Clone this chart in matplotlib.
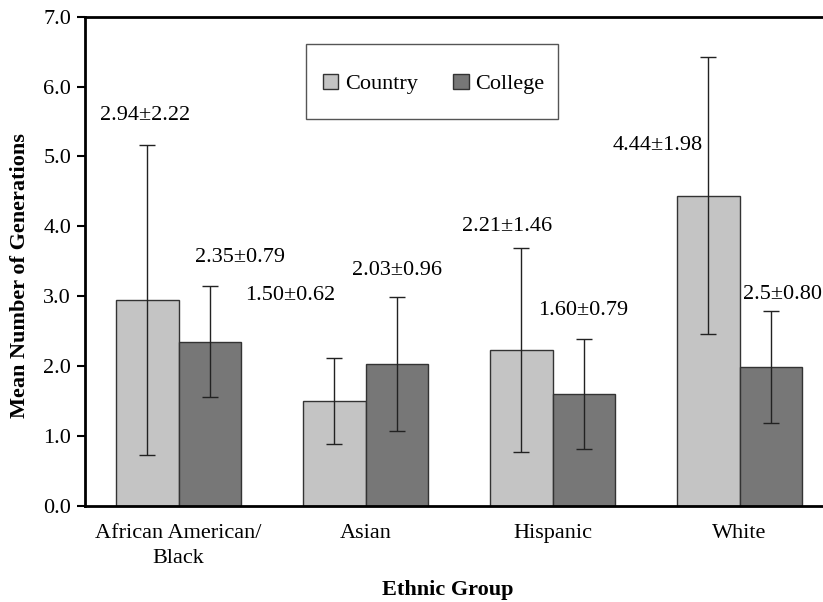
import numpy as np
import matplotlib
matplotlib.use('Agg')
import matplotlib.pyplot as plt
from matplotlib.patches import Rectangle

plt.rcParams['font.family'] = ['Liberation Serif', 'DejaVu Serif']

# Mean number of generations per ethnic group
groups = ['African American/\nBlack', 'Asian', 'Hispanic', 'White']
country_mean = [2.94, 1.50, 2.23, 4.44]
country_sd = [2.22, 0.62, 1.46, 1.98]
college_mean = [2.35, 2.03, 1.60, 1.98]
college_sd = [0.79, 0.96, 0.79, 0.80]
country_text = ['2.94±2.22', '1.50±0.62', '2.21±1.46', '4.44±1.98']
college_text = ['2.35±0.79', '2.03±0.96', '1.60±0.79', '2.5±0.80']

# where the value labels sit (data coords), they are placed by hand in the original
country_lab_pos = [(0.321, 5.59, 'center'), (1.096, 3.01, 'center'),
                   (2.257, 4.00, 'center'), (3.064, 5.15, 'center')]
college_lab_pos = [(0.829, 3.55, 'center'), (1.668, 3.37, 'center'),
                   (2.663, 2.79, 'center'), (3.52, 3.03, 'left')]

fs = 16
W, H = 823, 602

fig = plt.figure(figsize=(W/100, H/100), dpi=100)
ax = fig.add_axes([85/W, 1-505.7/H, 748/W, (505.7-16.7)/H])

x = np.arange(len(groups)) + 0.5
w = 1/3
err_kw = dict(ecolor='#222222', elinewidth=1, capsize=6, capthick=1)
ax.bar(x - w/2, country_mean, w, yerr=country_sd, color='#c4c4c4',
       edgecolor='#333333', linewidth=1, label='Country', error_kw=err_kw)
ax.bar(x + w/2, college_mean, w, yerr=college_sd, color='#777777',
       edgecolor='#333333', linewidth=1, label='College', error_kw=err_kw)

for t, (px, py, ha) in zip(country_text, country_lab_pos):
    ax.text(px, py, t, ha=ha, va='center', fontsize=fs)
for t, (px, py, ha) in zip(college_text, college_lab_pos):
    ax.text(px, py, t, ha=ha, va='center', fontsize=fs)

ax.set_xlim(0, 4)
ax.set_ylim(0, 7)
ax.set_yticks(np.arange(0, 7.5, 1.0))
ax.set_yticklabels([f'{v:.1f}' for v in np.arange(0, 7.5, 1.0)], fontsize=fs)
ax.set_xticks(x)
ax.set_xticklabels(groups, fontsize=fs, linespacing=1.45)
ax.tick_params(axis='x', length=0, pad=13)
ax.tick_params(axis='y', length=6, width=1.5, direction='out', pad=4)
for s in ax.spines.values():
    s.set_linewidth(2)

fig.text(20/W, 1-275.5/H, 'Mean Number of Generations', rotation=90,
         ha='center', va='center', fontsize=fs, fontweight='bold')
fig.text(448/W, 1-590/H, 'Ethnic Group', ha='center', va='center',
         fontsize=fs, fontweight='bold')

# legend box drawn separately so its size matches the original
ax.add_patch(Rectangle((305.7/W, 1-119/H), (558.3-305.7)/W, 75/H,
                       transform=fig.transFigure, facecolor='white',
                       edgecolor='#555555', linewidth=1, zorder=4,
                       clip_on=False))
leg = ax.legend(loc='center', bbox_to_anchor=(433.5/W, 1-84/H),
                bbox_transform=fig.transFigure, ncol=2, fontsize=fs,
                frameon=False, borderpad=0, handlelength=0.7, handleheight=0.7,
                handletextpad=0.3, columnspacing=1.6, borderaxespad=0)
leg.set_zorder(6)

fig.savefig('out.png', dpi=100)
